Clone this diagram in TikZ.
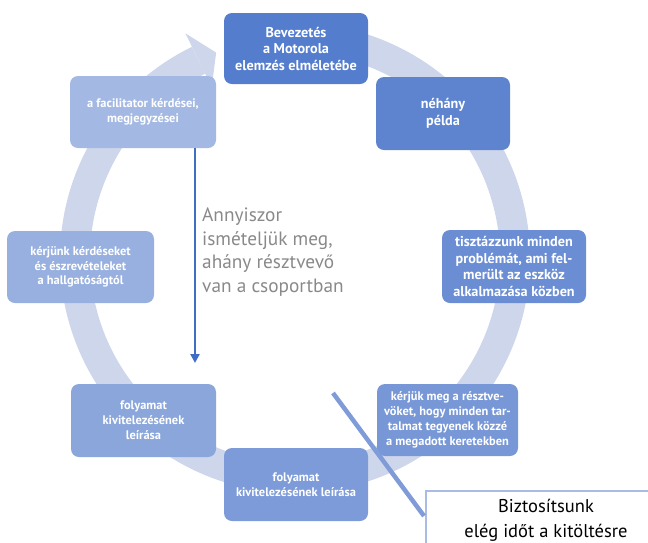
\documentclass[tikz,border=0pt]{standalone}
\usepackage{fontspec}
\setmainfont{PT Sans}
\usetikzlibrary{arrows.meta}
\definecolor{ringc}{RGB}{206,214,236}
\definecolor{cA}{RGB}{84,125,206}
\definecolor{cB}{RGB}{94,132,208}
\definecolor{cC}{RGB}{106,141,212}
\definecolor{cD}{RGB}{119,151,215}
\definecolor{cE}{RGB}{124,155,216}
\definecolor{cF}{RGB}{138,166,219}
\definecolor{cG}{RGB}{151,176,223}
\definecolor{cH}{RGB}{163,184,226}
\definecolor{arrowblue}{RGB}{64,110,196}
\definecolor{grayc}{RGB}{137,137,137}
\definecolor{bizc}{RGB}{170,188,228}
\definecolor{diagc}{RGB}{127,156,216}
\tikzset{
  box/.style={fill=#1, rounded corners=8pt, inner sep=0pt, align=center,
    text=white, font=\bfseries\fontsize{12.4}{15}\selectfont,
    minimum width=144pt, minimum height=72pt},
  bigtxt/.style={font=\bfseries\fontsize{14.2}{16.5}\selectfont},
}
\begin{document}
\begin{tikzpicture}[x=1pt,y=1pt]
\useasboundingbox (0,0) rectangle (648,-542);
\coordinate (C) at (295,-258);
% ring
\draw[ringc, line width=30pt] ([shift={(105:220)}]C) arc[start angle=105, end angle=-244, radius=220pt];
\fill[ringc] ([shift={(116:250)}]C) -- ([shift={(111:220)}]C) -- ([shift={(116:190)}]C) -- cycle;
% boxes
\node[box=cA, bigtxt, minimum width=144pt, minimum height=71pt] (b1) at (296,-48.5) {Bevezetés\\a Motorola\\elemzés elméletébe};
\node[box=cB, bigtxt, minimum width=134pt, minimum height=73pt] (b2) at (443,-113.5) {néhány\\példa};
\node[box=cC, bigtxt, minimum width=144pt, minimum height=73pt] (b3) at (514,-266.5) {tisztázzunk minden\\problémát, ami fel-\\merült az eszköz\\alkalmazása közben};
\node[box=cD, minimum width=141pt, minimum height=72pt] (b4) at (447.5,-420) {kérjük meg a résztve-\\vöket, hogy minden tar-\\talmat tegyenek közzé\\a megadott keretekben};
\node[box=cE, minimum width=144pt, minimum height=73pt] (b5) at (296,-484.5) {folyamat\\kivitelezésének leírása};
\node[box=cF, minimum width=145pt, minimum height=73pt] (b6) at (143.5,-420.5) {folyamat\\kivitelezésének\\leírása};
\node[box=cG, minimum width=147pt, minimum height=72pt, font=\bfseries\fontsize{12.4}{14.5}\selectfont] (b7) at (80.5,-267) {kérjünk kérdéseket\\és észrevételeket\\a hallgatóságtól};
\node[box=cH, minimum width=146pt, minimum height=72pt] (b8) at (143,-112) {a facilitator kérdései,\\megjegyzései};
% vertical arrow
\coordinate (av) at (195,-363);
\draw[arrowblue, line width=2.5pt, -{Triangle[width=9pt,length=9pt]}] (b8.south -| av) -- (av);
\node[anchor=north west, inner sep=0pt, align=left, text=grayc, font=\fontsize{19.3}{23.4}\selectfont] (rep) at (202,-208) {Annyiszor\\ismételjük meg,\\ahány résztvevő\\van a csoportban};
% callout box
\node[draw=bizc, line width=1.5pt, fill=white, minimum width=240pt, minimum height=80pt, anchor=north west] (biz) at (425,-490) {};
\node[anchor=north, inner sep=0pt, align=center, font=\fontsize{18.5}{25}\selectfont] (biztxt) at (546,-499) {Biztosítsunk\\elég időt a kitöltésre};
\coordinate (ds) at (333,-393);
\coordinate (de) at (424,-516);
\draw[diagc, line width=4.5pt] (ds) -- (de);
\end{tikzpicture}
\end{document}
